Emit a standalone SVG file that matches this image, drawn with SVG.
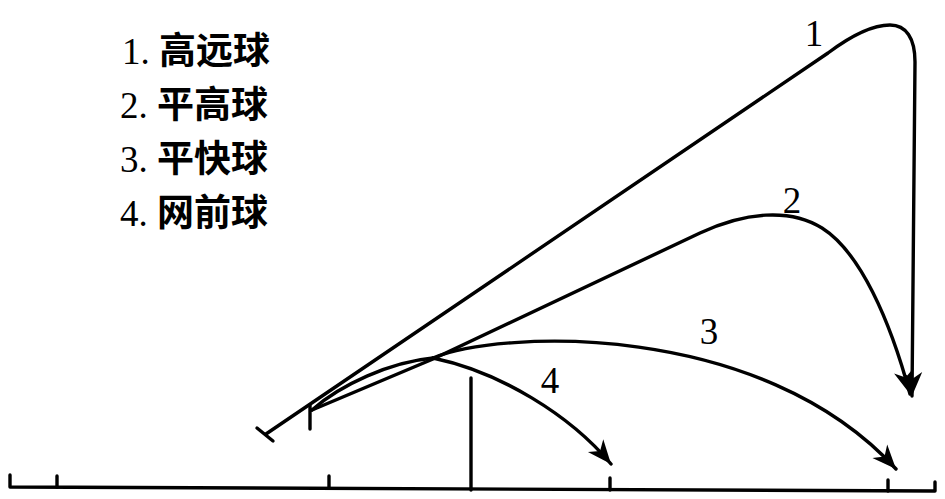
<svg xmlns="http://www.w3.org/2000/svg" width="945" height="499" viewBox="0 0 945 499">
<style>
.ln{fill:none;stroke:#000;stroke-width:3.4;stroke-linecap:round;stroke-linejoin:round}
.num{font-family:"Liberation Serif","Times New Roman",serif;font-size:37px;fill:#000}
.lg{font-family:"Liberation Serif","Noto Sans CJK SC",serif;font-size:37px;fill:#000}
.cjk{font-family:"Noto Sans CJK SC",sans-serif;font-weight:bold;font-size:37px}
</style>
<defs>
<marker id="arr" markerUnits="userSpaceOnUse" markerWidth="30" markerHeight="30" viewBox="-26 -13 30 26" refX="0" refY="0" orient="auto">
<path d="M0,0 L-24,-10 L-17,0 L-24,10 Z" fill="#000"/>
</marker>
</defs>
<rect width="945" height="499" fill="#fff"/>
<g id="legend">
<text class="lg" x="122" y="64">1. <tspan class="cjk">高远球</tspan></text>
<text class="lg" x="120" y="118">2. <tspan class="cjk">平高球</tspan></text>
<text class="lg" x="120" y="172">3. <tspan class="cjk">平快球</tspan></text>
<text class="lg" x="120" y="226">4. <tspan class="cjk">网前球</tspan></text>
</g>
<g id="court">
<path class="ln" d="M10,475 L10,487 L935,491 L935,482"/>
<path class="ln" d="M57,476 V487 M329,476 V488 M610,478 V490 M888,480 V491"/>
<path id="net" class="ln" d="M471,378 V490"/>
</g>
<g id="players">
<path class="ln" d="M257,428 L273,441"/>
<path class="ln" d="M310,405 V429"/>
</g>
<g id="connectors">
<path id="shot1" class="ln" d="M266,434 L828,53 C852,35 872,25 890,25 C906,25 915,38 915,62 L912,396" marker-end="url(#arr)"/>
<path id="shot2" class="ln" d="M312,410 L433,359 L700,233 C745,212 790,208 822,228 C860,252 890,320 910,394" marker-end="url(#arr)"/>
<path id="shot34" class="ln" d="M312,410 C340,385 390,362 433,358"/>
<path id="shot3" class="ln" d="M433,358 C500,330 760,320 896,469" marker-end="url(#arr)"/>
<path id="shot4" class="ln" d="M433,358 C500,372 570,415 611,464" marker-end="url(#arr)"/>
</g>
<g id="labels">
<text class="num" x="814" y="46" text-anchor="middle">1</text>
<text class="num" x="792" y="213" text-anchor="middle">2</text>
<text class="num" x="709" y="344" text-anchor="middle">3</text>
<text class="num" x="550" y="393" text-anchor="middle">4</text>
</g>
</svg>
